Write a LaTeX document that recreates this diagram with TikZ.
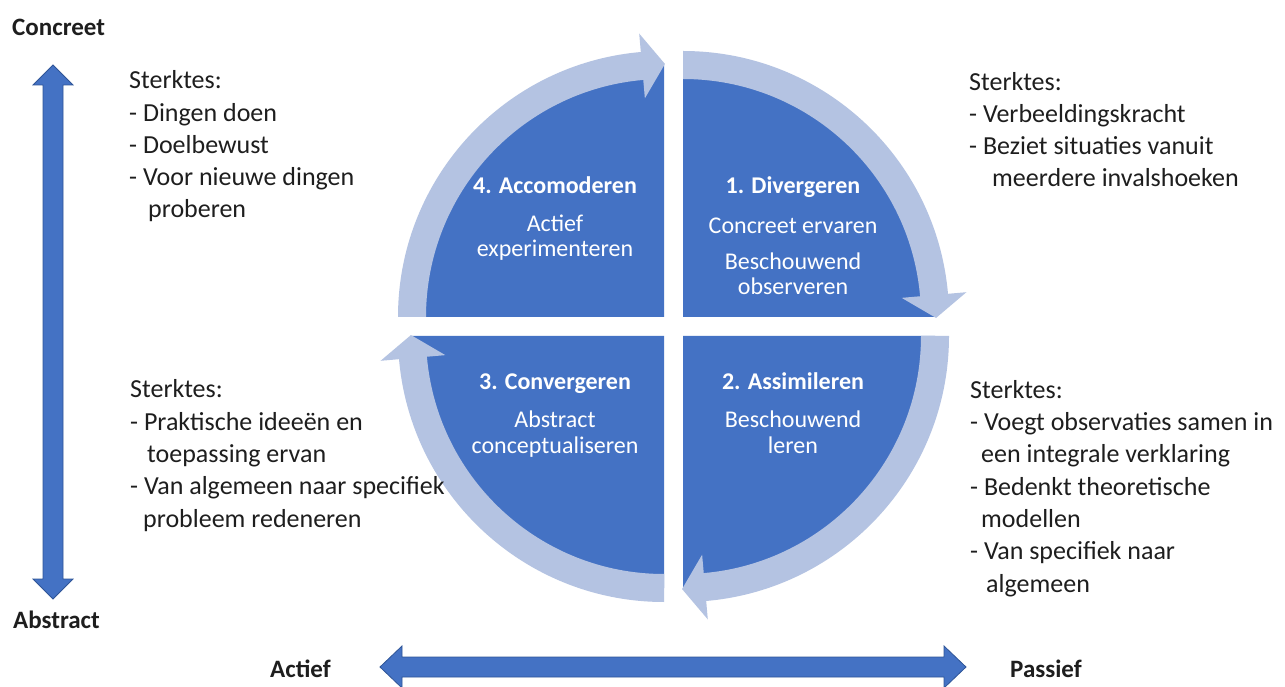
\documentclass[tikz,border=0pt]{standalone}
\usepackage{fontspec}
\setmainfont{Carlito}
\usetikzlibrary{calc}
\definecolor{quad}{HTML}{4472C4}
\definecolor{band}{HTML}{B4C3E2}
\definecolor{axisedge}{HTML}{2F5597}
\definecolor{ink}{HTML}{1E1E1E}

% curved cycle arrow: centre, start angle, angle where the head begins
\newcommand\bandarrow[3]{%
  \fill[bandfill] ($(#1)+(#2:266)$) arc[start angle=#2, end angle=#3, radius=266]
    -- ($(#1)+(#3:284.5)$) -- ($(#1)+(#3:252)+({#3-90}:23)$) -- ($(#1)+(#3:219.5)$)
    -- ($(#1)+(#3:238)$) arc[start angle=#3, end angle=#2, radius=238] -- cycle;}

\begin{document}
\begin{tikzpicture}[x=1pt,y=1pt,
  quadfill/.style={fill=quad, draw=none},
  bandfill/.style={fill=band, draw=none},
  axisarrow/.style={fill=quad, draw=axisedge, line width=0.8pt, line join=miter},
  qhead/.style={text=white, font=\fontsize{24}{26}\selectfont\bfseries, anchor=base, inner sep=0pt},
  % multi-line nodes below are placed by the baseline of their last line
  qbody/.style={text=white, font=\fontsize{24}{25.7}\selectfont, anchor=base, align=center, inner sep=0pt},
  sidetext/.style={text=ink, font=\fontsize{26}{32.3}\selectfont, anchor=base west, align=left, inner sep=0pt},
  axislabel/.style={text=ink, font=\fontsize{25}{30}\selectfont\bfseries, anchor=base west, inner sep=0pt},
]
\clip (0,0) rectangle (1285,686);
\fill[white] (0,0) rectangle (1285,686);

% inner corners of the four quadrants
\coordinate (c4) at (664,369);
\coordinate (c1) at (683,369);
\coordinate (c2) at (683,350);
\coordinate (c3) at (664,350);

% quadrants
\fill[quadfill] (c4) -- ++(180:252) arc[start angle=180, end angle=90, radius=252] -- cycle;
\fill[quadfill] (c1) -- ++(90:252) arc[start angle=90, end angle=0, radius=252] -- cycle;
\fill[quadfill] (c2) -- ++(0:252) arc[start angle=0, end angle=-90, radius=252] -- cycle;
\fill[quadfill] (c3) -- ++(-90:252) arc[start angle=-90, end angle=-180, radius=252] -- cycle;

% clockwise arrows around the cycle
\bandarrow{c4}{180}{95}
\bandarrow{c1}{90}{5}
\bandarrow{c2}{0}{-85}
\bandarrow{c3}{-90}{-175}

% quadrant labels
\node[qhead] (h4) at (555,492) {4. Accomoderen};
\node[qbody] (b4) at (555,429) {Actief\\experimenteren};
\node[qhead] (h1) at (793,492) {1. Divergeren};
\node[qbody] (b1) at (793,391) {Concreet ervaren\\[10pt]Beschouwend\\observeren};
\node[qhead] (h3) at (555,296) {3. Convergeren};
\node[qbody] (b3) at (555,233) {Abstract\\conceptualiseren};
\node[qhead] (h2) at (793,296) {2. Assimileren};
\node[qbody] (b2) at (793,233) {Beschouwend\\leren};

% strengths per style
\node[sidetext] (tl) at (129,468) {Sterktes:\\- Dingen doen\\- Doelbewust\\- Voor nieuwe dingen\\\hspace*{19pt}proberen};
\node[sidetext] (tr) at (969,499) {Sterktes:\\- Verbeeldingskracht\\- Beziet situaties vanuit\\\hspace*{23pt}meerdere invalshoeken};
\node[sidetext] (bl) at (130,159) {Sterktes:\\- Praktische ideeën en\\\hspace*{17pt}toepassing ervan\\- Van algemeen naar specifiek\\\hspace*{13pt}probleem redeneren};
\node[sidetext] (br) at (970,94) {Sterktes:\\- Voegt observaties samen in\\\hspace*{11pt}een integrale verklaring\\- Bedenkt theoretische\\\hspace*{11pt}modellen\\- Van specifiek naar\\\hspace*{16pt}algemeen};

% axes
\filldraw[axisarrow] (53,621) -- (73,601) -- (63,601) -- (63,107) -- (73,107) -- (53,87)
  -- (33,107) -- (43,107) -- (43,601) -- (33,601) -- cycle;
\filldraw[axisarrow] (380,19) -- (402,40) -- (402,29) -- (944,29) -- (944,40) -- (966,19)
  -- (944,-2) -- (944,9) -- (402,9) -- (402,-2) -- cycle;

\node[axislabel] (concreet) at (12,650) {Concreet};
\node[axislabel] (abstract) at (13,58) {Abstract};
\node[axislabel] (actief) at (270,9) {Actief};
\node[axislabel] (passief) at (1010,9) {Passief};
\end{tikzpicture}
\end{document}
